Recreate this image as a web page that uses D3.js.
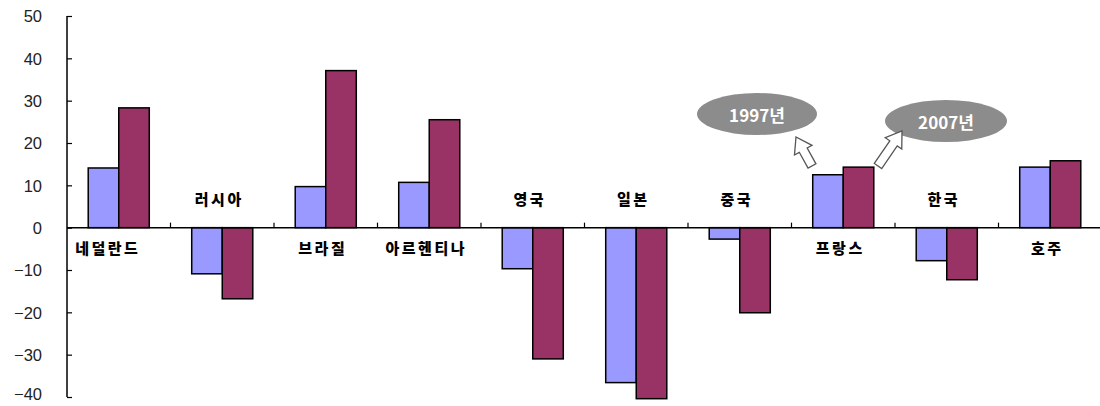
<!DOCTYPE html>
<html><head><meta charset="utf-8">
<script src="https://cdn.jsdelivr.net/npm/d3@7"></script>
<style>
html,body{margin:0;padding:0;background:#fff;}
svg{display:block;}
</style></head>
<body><svg id="c" width="1100" height="406"></svg>
<script>
const categories = ["네덜란드","러시아","브라질","아르헨티나","영국","일본","중국","프랑스","한국","호주"];
const series = ["1997년","2007년"];
const values1997 = [14.1, -10.9, 9.7, 10.7, -9.7, -36.6, -2.7, 12.5, -7.8, 14.3];
const values2007 = [28.3, -16.8, 37.1, 25.5, -31.0, -40.4, -20.1, 14.3, -12.3, 15.8];
const yTicks = [50, 40, 30, 20, 10, 0, -10, -20, -30, -40];
const colors = ["#9999ff", "#993366"];

const svg = d3.select("#c");
const mLeft = 67, mRight = 1102, mTop = 16, mBottom = 397;

const y = d3.scaleLinear().domain([-40, 50]).range([mBottom, mTop]);
const x = d3.scaleBand().domain(categories).range([mLeft, mRight]).paddingInner(0.41).paddingOuter(0.205);
const xs = d3.scaleBand().domain(series).range([0, x.bandwidth()]);

const rows = categories.map((c, i) => ({cat: c, vals: [values1997[i], values2007[i]]}));

// y axis
const yAxis = d3.axisRight(y).tickValues(yTicks).tickSize(5).tickFormat(d3.format("d"));
const ya = svg.append("g").attr("transform", `translate(${mLeft},0)`).call(yAxis);
ya.select(".domain").attr("stroke", "#000").attr("stroke-width", 1.5).attr("d", `M0,${mTop}V${mBottom}`);
ya.selectAll(".tick line").attr("stroke", "#000").attr("stroke-width", 1.2);
ya.selectAll(".tick text").attr("x", -25).attr("text-anchor", "end")
  .attr("dy", d => d === -40 ? "0.15em" : "0.36em")
  .attr("font-family", "'Liberation Sans', Arial, sans-serif").attr("font-size", 16.5).attr("fill", "#222");

// bars
const g = svg.append("g");
rows.forEach(r => {
  r.vals.forEach((v, j) => {
    g.append("rect")
      .attr("x", x(r.cat) + xs(series[j]))
      .attr("y", y(Math.max(0, v)))
      .attr("width", xs.bandwidth())
      .attr("height", Math.abs(y(v) - y(0)))
      .attr("fill", colors[j]).attr("stroke", "#000").attr("stroke-width", 1.5);
  });
});

// zero axis line with category ticks
const step = x.step();
const gapHalf = (step - x.bandwidth()) / 2;
svg.append("line").attr("x1", mLeft).attr("x2", 1100).attr("y1", y(0)).attr("y2", y(0))
  .attr("stroke", "#000").attr("stroke-width", 1.5);
categories.forEach((c, i) => {
  if (i === 0) return;
  const tx = x(c) - gapHalf;
  svg.append("line").attr("x1", tx).attr("x2", tx).attr("y1", y(0)).attr("y2", y(0) - 5)
    .attr("stroke", "#000").attr("stroke-width", 1.2);
});

// category labels: above zero for negative categories, below for positive
rows.forEach((r, i) => {
  const neg = r.vals[0] < 0;
  let cx = x(r.cat) + x.bandwidth() / 2 - 3;
  if (i === 0) cx -= 8;
  svg.append("text").attr("x", cx).attr("y", neg ? y(0) - 27 : y(0) + 22)
    .attr("text-anchor", "middle").attr("dominant-baseline", "middle")
    .attr("font-family", "'Noto Sans CJK KR', sans-serif").attr("font-weight", 900)
    .attr("font-size", 15).attr("letter-spacing", 2.5).attr("fill", "#000")
    .text(r.cat);
});

// legend annotations (ellipses + block arrows)
function blockArrow(tailX, tailY, tipX, tipY) {
  const dx = tipX - tailX, dy = tipY - tailY;
  const L = Math.hypot(dx, dy);
  const ang = Math.atan2(dy, dx) * 180 / Math.PI;
  const sw = 4.5, hw = 10, hl = 15;
  const pts = [[0, -sw], [L - hl, -sw], [L - hl, -hw], [L, 0], [L - hl, hw], [L - hl, sw], [0, sw]];
  svg.append("polygon").attr("points", pts.map(p => p.join(",")).join(" "))
    .attr("transform", `translate(${tailX},${tailY}) rotate(${ang})`)
    .attr("fill", "#fff").attr("stroke", "#555").attr("stroke-width", 1.3).attr("stroke-linejoin", "miter");
}
const legends = [
  {label: series[0], cx: 757, cy: 114, rx: 60, ry: 21, arrow: [812, 166, 796, 137]},
  {label: series[1], cx: 946, cy: 121, rx: 61, ry: 21, arrow: [878, 166, 902, 131]}
];
legends.forEach(l => {
  svg.append("ellipse").attr("cx", l.cx).attr("cy", l.cy).attr("rx", l.rx).attr("ry", l.ry).attr("fill", "#8c8c8c");
  svg.append("text").attr("x", l.cx).attr("y", l.cy).attr("text-anchor", "middle").attr("dominant-baseline", "central")
    .attr("font-family", "'Noto Sans CJK KR', sans-serif").attr("font-weight", "bold").attr("font-size", 17)
    .attr("fill", "#fff").text(l.label);
  blockArrow(...l.arrow);
});
</script>
</body></html>
